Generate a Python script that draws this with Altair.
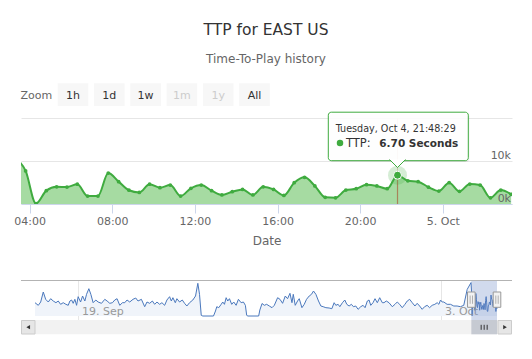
import altair as alt
import pandas as pd

# ---------------- data ----------------
TITLE = "TTP for EAST US"
SUBTITLE = "Time-To-Play history"
ZOOM_LABEL = "Zoom"
RANGE_BUTTONS = ["1h", "1d", "1w", "1m", "1y", "All"]
DISABLED_BUTTONS = ["1m", "1y"]
X_TITLE = "Date"

# main series (ms), one reading every 30 minutes
MAIN_FIRST = "2016-10-04 03:18:29"
MAIN_STEP = "30min"
TTP_MS = [10700, 7700, 100, 3100, 4000, 3950, 4600, 1850, 1850, 7200, 5200, 3200,
          2700, 4600, 3800, 4400, 1850, 3650, 4400, 3100, 2100, 2850, 3400, 2100, 4000,
          3400, 2000, 4950, 6200, 4200, 1550, 1450, 3250, 3550, 4500, 4200, 3550,
          6700, 5400, 5200, 3900, 3000, 4950, 2950, 4650, 4400, 1450, 3250, 2250]
VIEW_RANGE = ["2016-10-04 03:35:00", "2016-10-05 03:21:00"]
X_TICKS = ["2016-10-04 04:00", "2016-10-04 08:00", "2016-10-04 12:00",
           "2016-10-04 16:00", "2016-10-04 20:00", "2016-10-05 00:00"]
Y_TICKS = [0, 10000, 20000]
Y_LABELS = ["0k", "10k"]
Y_MAX = 20000

HOVER_TIME = "2016-10-04 21:48:29"
HOVER_MS = 6700
TOOLTIP_HEADER = "Tuesday, Oct 4, 21:48:29"
TOOLTIP_NAME = "TTP:"
TOOLTIP_VALUE = "6.70 Seconds"

# navigator series: days after NAV_BASE, value in ms
NAV_BASE = "2016-09-17 07:40:00"
NAV_END = "2016-10-05 03:21:00"
NAV_DAYS = [0, 0.127, 0.219, 0.319, 0.412, 0.512, 0.604, 0.704, 0.808, 0.896, 0.988, 1.088,
            1.192, 1.281, 1.346, 1.412, 1.473, 1.538, 1.604, 1.665, 1.758, 1.835, 1.923,
            1.988, 2.077, 2.154, 2.242, 2.346, 2.435, 2.565, 2.692, 2.781, 2.885, 2.988,
            3.077, 3.165, 3.269, 3.373, 3.462, 3.55, 3.654, 3.781, 3.885, 3.973, 4.104,
            4.231, 4.319, 4.423, 4.527, 4.615, 4.704, 4.808, 4.896, 5.0, 5.088, 5.192,
            5.258, 5.319, 5.412, 5.473, 5.577, 5.681, 5.769, 5.858, 5.962, 6.088, 6.192,
            6.281, 6.346, 6.412, 6.473, 6.885, 6.962, 7.012, 7.088, 7.181, 7.242, 7.308,
            7.373, 7.435, 7.5, 7.588, 7.665, 7.758, 7.846, 7.95, 8.038, 8.115, 8.165,
            8.212, 8.627, 8.673, 8.758, 8.846, 8.935, 9.038, 9.142, 9.231, 9.358, 9.45,
            9.55, 9.654, 9.742, 9.835, 9.912, 9.962, 10.038, 10.127, 10.192, 10.296,
            10.385, 10.473, 10.577, 10.665, 10.742, 10.835, 10.935, 11.027, 11.115,
            11.219, 11.346, 11.45, 11.538, 11.604, 11.692, 11.758, 11.858, 11.95, 12.027,
            12.115, 12.204, 12.281, 12.373, 12.462, 12.565, 12.654, 12.731, 12.819,
            12.885, 12.95, 13.038, 13.115, 13.204, 13.296, 13.396, 13.462, 13.55, 13.654,
            13.781, 13.885, 13.973, 14.065, 14.165, 14.269, 14.358, 14.45, 14.55, 14.654,
            14.742, 14.835, 14.935, 15.027, 15.127, 15.219, 15.319, 15.423, 15.512,
            15.577, 15.642, 15.704, 15.769, 15.896, 16.027, 16.154, 16.281, 16.412,
            16.538, 16.67]
NAV_MS = [4260, 3420, 4480, 7680, 5340, 4480, 5540, 4800, 4260, 4800, 3740, 4260,
          3740, 3420, 4800, 5120, 4060, 5340, 3420, 6180, 4480, 6400, 4800,
          6940, 8740, 6940, 4260, 5120, 4480, 4060, 5340, 4800, 4060, 4260,
          5120, 5540, 3420, 4260, 4260, 5120, 4480, 5340, 5760, 4800, 5340,
          2980, 4480, 4060, 4800, 3740, 4480, 3740, 4260, 3420, 5120, 6180,
          4800, 5860, 4260, 5540, 4480, 5120, 4060, 3200, 4260, 5120, 6400,
          10460, 6940, 220, 0, 0, 1600, 2980, 2660, 3740, 4480, 3740,
          5860, 4800, 5540, 3740, 4480, 3420, 5340, 4260, 4480, 3420, 220,
          0, 0, 1920, 4000, 3420, 3740, 3200, 2660, 3420, 5860, 5340,
          4060, 6400, 5540, 7260, 4260, 6940, 3420, 4800, 5540, 2660,
          3740, 5340, 6400, 6940, 8000, 6940, 4800, 3200, 2980,
          2660, 2560, 2340, 4260, 3420, 3740, 2980, 4260, 5120, 3740,
          3200, 3740, 2980, 3200, 2140, 2980, 3420, 2660, 4800,
          5120, 3420, 4260, 5540, 4260, 5860, 4260, 4260, 4800, 4260,
          2980, 3740, 4480, 3740, 2660, 3740, 4800, 5340, 4260, 3200,
          4060, 3200, 2140, 2980, 3420, 2660, 3420, 3740, 4260,
          3740, 5120, 4480, 4480, 3740, 3740, 3200, 3200, 2980,
          3420, 8500]
NAV_TICKS = ["2016-09-19 00:00", "2016-10-03 00:00"]
NAV_TICK_LABELS = ["19. Sep", "3. Oct"]
NAV_VMIN, NAV_VMAX = -1280, 11520

# ---------------- styles / layout ----------------
GREEN = "#3fab3f"
GREEN_FILL = "#a6dba2"
NAV_LINE = "#4a78bd"
NAV_FILL = "#f0f4fa"
W, H = 491, 86
PLOT_X, PLOT_Y = 21, 118          # page position of the plot area


def px(x):
    return x - PLOT_X


def py(y):
    return y - PLOT_Y


def dt(s):
    ts = pd.Timestamp(s)
    return alt.DateTime(year=ts.year, month=ts.month, date=ts.day,
                        hours=ts.hour, minutes=ts.minute, seconds=ts.second)


VIEW_DT = [dt(s) for s in VIEW_RANGE]
NAV_DT = [dt(NAV_BASE), dt(NAV_END)]

main_df = pd.DataFrame({
    "t": pd.date_range(MAIN_FIRST, periods=len(TTP_MS), freq=MAIN_STEP),
    "v": TTP_MS})
nav_t = (pd.Timestamp(NAV_BASE) + pd.to_timedelta(NAV_DAYS, unit="D")).round("s")
nav_df = pd.concat([pd.DataFrame({"t": nav_t, "v": NAV_MS}), main_df], ignore_index=True)
hover_df = pd.DataFrame({"t": [pd.Timestamp(HOVER_TIME)], "v": [HOVER_MS]})
v0, v1 = pd.Timestamp(VIEW_RANGE[0]), pd.Timestamp(VIEW_RANGE[1])
view_df = pd.DataFrame({"t0": [v0], "t1": [v1], "tm": [(v0 + (v1 - v0) / 2).round("s")]})
edges_df = pd.DataFrame({"t": [v0, v1]})
navtick_df = pd.DataFrame({"t": [pd.Timestamp(s) for s in NAV_TICKS], "label": NAV_TICK_LABELS})
ylab_df = pd.DataFrame({"v": Y_TICKS[:len(Y_LABELS)], "label": Y_LABELS})


def mx(field="t"):
    return alt.X(f"{field}:T", scale=alt.Scale(domain=VIEW_DT), axis=None)


def my(field="v"):
    return alt.Y(f"{field}:Q", scale=alt.Scale(domain=[0, Y_MAX], nice=False), axis=None)


def nx(field="t"):
    return alt.X(f"{field}:T", scale=alt.Scale(domain=NAV_DT, range=[14, 476]), axis=None)


def ny(field="v"):
    return alt.Y(f"{field}:Q", scale=alt.Scale(domain=[NAV_VMIN, NAV_VMAX], range=[202, 162],
                                               nice=False, zero=False), axis=None)


def text_layer(label, x, y, size, color, weight="normal", align="left"):
    return alt.Chart(pd.DataFrame({"label": [label]})).mark_text(
        align=align, baseline="alphabetic", fontSize=size, color=color, fontWeight=weight
    ).encode(text="label:N", x=alt.value(x), y=alt.value(y))


def box(x0, x1, y0, y1, **kw):
    return alt.Chart(pd.DataFrame({"k": [0]})).mark_rect(**kw).encode(
        x=alt.value(x0), x2=alt.value(x1), y=alt.value(y0), y2=alt.value(y1))


layers = []

# header
layers.append(text_layer(TITLE, px(266), py(35), 15.5, "#333333", align="center"))
layers.append(text_layer(SUBTITLE, px(266), py(62.5), 12, "#666666", align="center"))
layers.append(text_layer(ZOOM_LABEL, px(20.5), py(99), 11, "#666666"))
for i, lab in enumerate(RANGE_BUTTONS):
    bx = px(57.7) + i * 36.3
    layers.append(box(bx, bx + 30.6, py(83.3), py(106), color="#f7f7f7"))
    layers.append(text_layer(lab, bx + 15.3, py(99), 11,
                             "#cccccc" if lab in DISABLED_BUTTONS else "#333333", align="center"))

# main plot
x_axis = alt.Axis(
    values=[dt(s) for s in X_TICKS],
    labelExpr="timeFormat(datum.value,'%H:%M') == '00:00' ? timeFormat(datum.value,'%-d. %b') : timeFormat(datum.value,'%H:%M')",
    grid=False, tickSize=9, tickColor="#ccd6eb", domainColor="#ccd6eb",
    labelColor="#666666", labelFontSize=11, labelPadding=2, labelFlush=False,
    title=X_TITLE, titleColor="#666666", titleFontSize=12, titleFontWeight="normal",
    titlePadding=9)
y_axis = alt.Axis(
    orient="right", values=Y_TICKS, grid=True, gridColor="#e6e6e6", domain=False,
    ticks=False, labels=False, title=None)

layers.append(alt.Chart(main_df).mark_area(color=GREEN_FILL, interpolate="monotone", clip=True).encode(
    x=alt.X("t:T", scale=alt.Scale(domain=VIEW_DT), axis=x_axis),
    y=alt.Y("v:Q", scale=alt.Scale(domain=[0, Y_MAX], nice=False), axis=y_axis)))

# crosshair
layers.append(alt.Chart(hover_df).mark_rule(color="#efcdc6", strokeWidth=1).encode(
    x=mx(), y=my(), y2=alt.value(0)))
layers.append(alt.Chart(hover_df).mark_rule(color="#a8845a", strokeWidth=1.2).encode(
    x=mx(), y=my(), y2=alt.value(H)))

layers.append(alt.Chart(main_df).mark_line(color=GREEN, strokeWidth=2, interpolate="monotone", clip=True).encode(
    x=mx(), y=my()))
layers.append(alt.Chart(main_df).mark_circle(size=14, color=GREEN, opacity=1, clip=True).encode(
    x=mx(), y=my()))

# y-axis labels (drawn above the series, inside the plot on the right)
layers.append(alt.Chart(ylab_df).mark_text(align="right", baseline="alphabetic", dy=-2.5, fontSize=11,
                                           color="#666666").encode(
    x=alt.value(W - 1), y=my(), text="label:N"))

# hover halo and marker
layers.append(alt.Chart(hover_df).mark_circle(size=361, color=GREEN, opacity=0.22).encode(x=mx(), y=my()))
layers.append(alt.Chart(hover_df).mark_point(shape="circle", filled=True, size=64, fill=GREEN,
                                             stroke="white", strokeWidth=1, opacity=1).encode(x=mx(), y=my()))

# tooltip
layers.append(box(px(329.5), px(469.5), py(113.5), py(162), color="#000000", opacity=0.06, cornerRadius=3))
layers.append(box(px(328.3), px(468.3), py(112.2), py(160.7), fill="white", fillOpacity=0.9,
                  stroke=GREEN, strokeWidth=1, cornerRadius=3))
layers.append(alt.Chart(hover_df).mark_point(shape="M-1,-0.5L0,0.5L1,-0.5", size=256, filled=True,
                                             fill="white", fillOpacity=1, stroke=GREEN, strokeWidth=1,
                                             opacity=1).encode(x=mx(), y=alt.value(py(163.5))))
layers.append(text_layer(TOOLTIP_HEADER, px(335.7), py(132), 9.6, "#333333"))
layers.append(alt.Chart(pd.DataFrame({"k": [0]})).mark_circle(size=42, color=GREEN, opacity=1).encode(
    x=alt.value(px(340)), y=alt.value(py(143))))
layers.append(text_layer(TOOLTIP_NAME, px(346), py(146.5), 11.5, "#333333"))
layers.append(text_layer(TOOLTIP_VALUE, px(379.3), py(146.5), 10.5, "#333333", weight="bold"))

# navigator
layers.append(alt.Chart(navtick_df).mark_rule(color="#e6e6e6", strokeWidth=1).encode(
    x=nx(), y=alt.value(162), y2=alt.value(202)))
layers.append(alt.Chart(nav_df).mark_area(color=NAV_FILL).encode(x=nx(), y=ny(), y2=alt.value(202)))
layers.append(alt.Chart(nav_df).mark_line(color=NAV_LINE, strokeWidth=1).encode(x=nx(), y=ny()))
layers.append(alt.Chart(navtick_df).mark_text(align="left", dx=3.4, baseline="alphabetic", fontSize=11,
                                              color="#999999").encode(
    x=nx(), y=alt.value(py(315.3)), text="label:N"))
layers.append(alt.Chart(view_df).mark_rect(color="#6685c2", opacity=0.3).encode(
    x=nx("t0"), x2=alt.X2("t1:T"), y=alt.value(162), y2=alt.value(202)))
layers.append(alt.Chart(pd.DataFrame({"k": [0]})).mark_rule(color="#b3b3b3", strokeWidth=1).encode(
    x=alt.value(0), x2=alt.value(W), y=alt.value(162.5)))

# scrollbar
layers.append(box(0, W, 202, 216.3, color="#f2f2f2"))
layers.append(alt.Chart(view_df).mark_rect(color="#c6cad2").encode(
    x=nx("t0"), x2=alt.X2("t1:T"), y=alt.value(202), y2=alt.value(216.3)))
for off in (-3, 0, 3):
    layers.append(alt.Chart(view_df).mark_rule(color="#333333", strokeWidth=1, xOffset=off).encode(
        x=nx("tm"), y=alt.value(206.8), y2=alt.value(211.8)))
layers.append(box(0.5, 14, 202.5, 216, fill="#e6e6e6", stroke="#cccccc", strokeWidth=1))
layers.append(box(477, 490.5, 202.5, 216, fill="#e6e6e6", stroke="#cccccc", strokeWidth=1))
layers.append(alt.Chart(pd.DataFrame({"k": [0]})).mark_point(shape="triangle-left", filled=True, size=18,
                                                             color="#333333", opacity=1).encode(
    x=alt.value(7.2), y=alt.value(209.2)))
layers.append(alt.Chart(pd.DataFrame({"k": [0]})).mark_point(shape="triangle-right", filled=True, size=18,
                                                             color="#333333", opacity=1).encode(
    x=alt.value(484), y=alt.value(209.2)))

# navigator handles
layers.append(alt.Chart(edges_df).mark_rect(fill="#f2f2f2", stroke="#999999", strokeWidth=1,
                                            xOffset=-3.8, x2Offset=3.8).encode(
    x=nx(), x2=alt.X2("t:T"), y=alt.value(174), y2=alt.value(189.3)))
for off in (-1.2, 1.2):
    layers.append(alt.Chart(edges_df).mark_rule(color="#b0b0b0", strokeWidth=1, xOffset=off).encode(
        x=nx(), y=alt.value(177.5), y2=alt.value(185.8)))

chart = alt.layer(*layers).resolve_scale(x="independent", y="independent").properties(
    width=W, height=H,
    autosize=alt.AutoSizeParams(type="none"),
    padding={"left": 13, "top": 110, "right": 12, "bottom": 147},
).configure(font="DejaVu Sans").configure_view(stroke=None)

chart.save("out.html", embed_options={"renderer": "svg", "actions": False})
